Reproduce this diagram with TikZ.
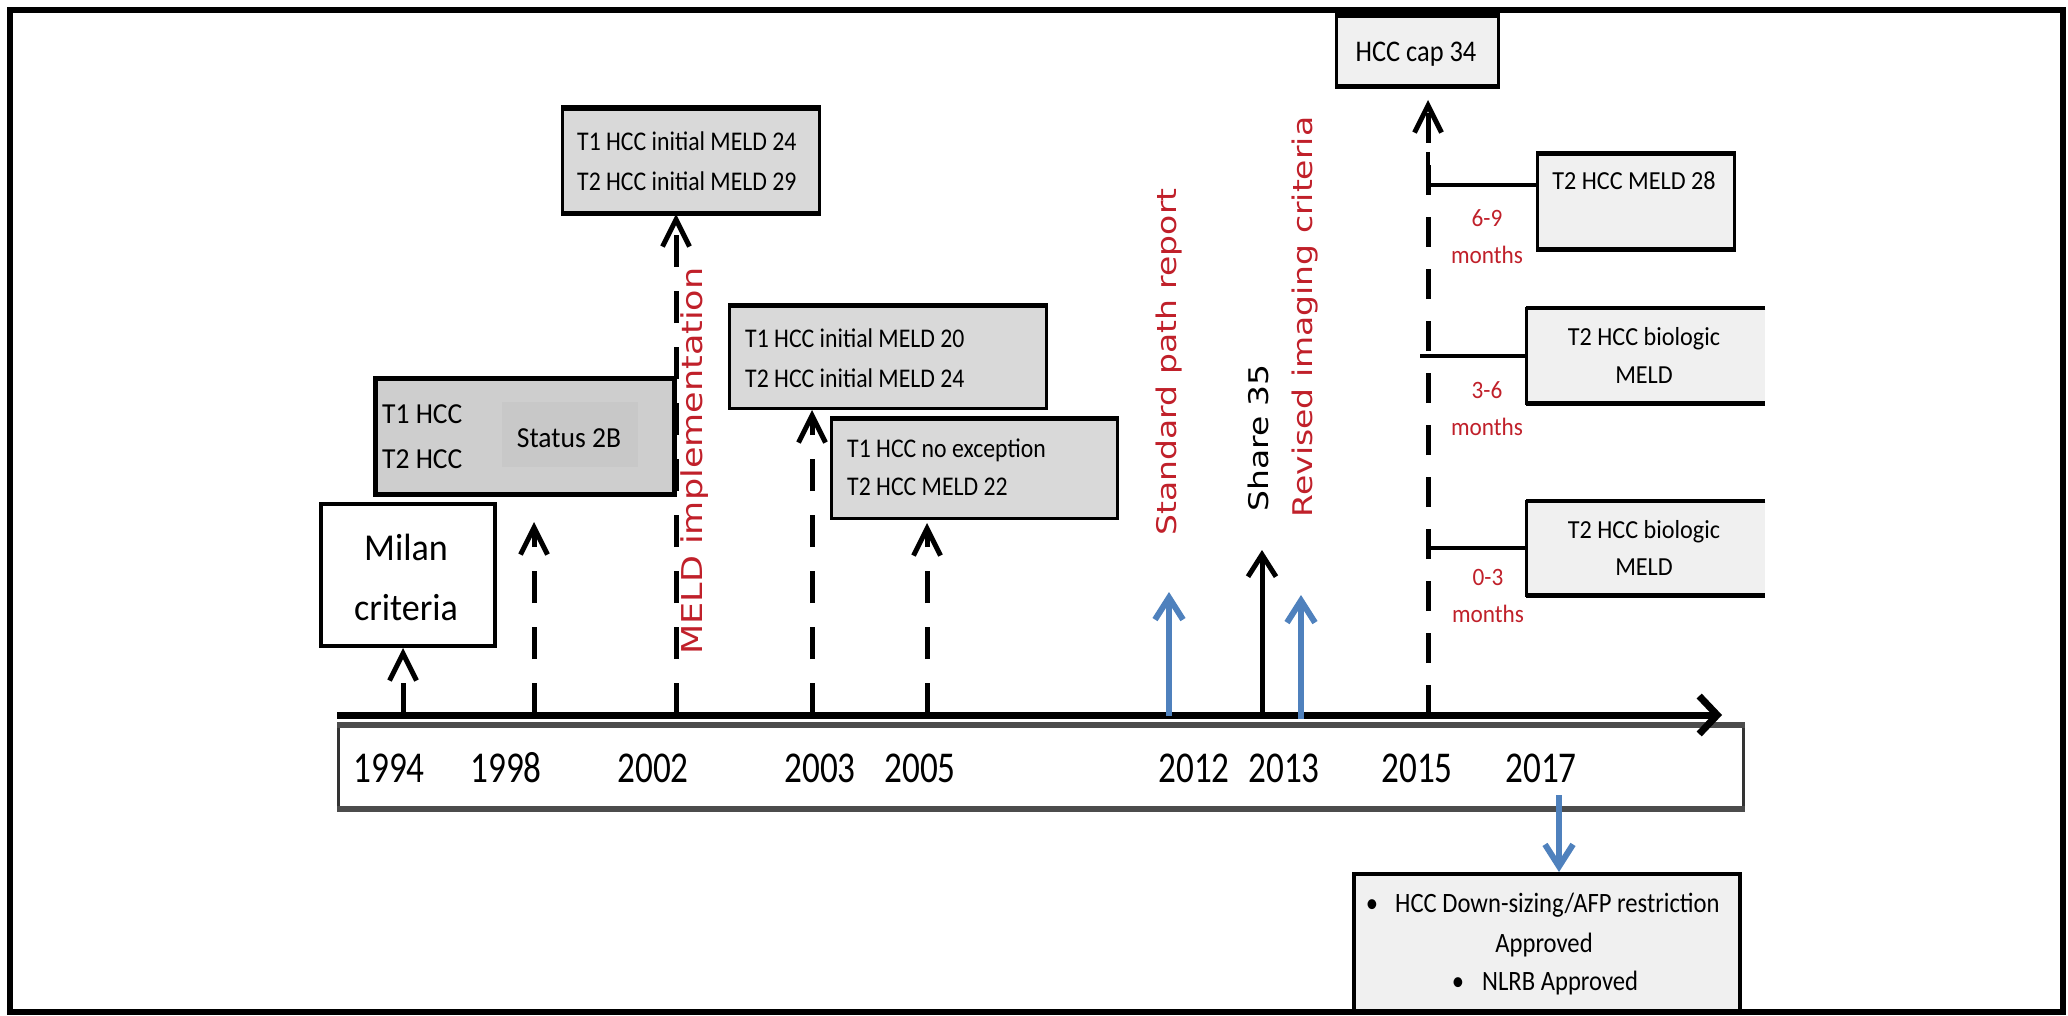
\documentclass[tikz,border=0pt]{standalone}
\usepackage{fontspec}
\usepackage{graphicx}
\usetikzlibrary{arrows.meta}
\setmainfont{Carlito}
\newfontfamily\fntBox[FakeStretch=0.88]{Carlito}
\newfontfamily\fntYear[FakeStretch=0.8]{Carlito}
\newfontfamily\fntMil[FakeStretch=0.95]{Carlito}
\newfontfamily\fntR[FakeStretch=0.93]{Carlito}
\newfontfamily\fntRot{DejaVu Sans}
\definecolor{boxgray}{RGB}{217,217,217}
\definecolor{statgray}{RGB}{206,206,206}
\definecolor{statinner}{RGB}{200,200,200}
\definecolor{lightfill}{RGB}{240,240,240}
\definecolor{myred}{RGB}{192,32,42}
\definecolor{myblue}{RGB}{79,129,189}
\tikzset{
  boxline/.style={draw=black, line width=3},
  thickedge/.style={draw=black, line width=5},
  graybox/.style={boxline, fill=boxgray, inner sep=0, anchor=north west},
  statbox/.style={boxline, line width=5, fill=statgray, inner sep=0, anchor=north west},
  whitebox/.style={boxline, line width=4, fill=white, inner sep=0, anchor=north west},
  lightbox/.style={boxline, fill=lightfill, inner sep=0, anchor=north west},
  openbox/.style={draw=none, fill=lightfill, inner sep=0, anchor=north west},
  yearbox/.style={draw=black!80, line width=2.5, fill=white, inner sep=0, anchor=north west},
  tl/.style={inner sep=0, anchor=base west},
  tc/.style={inner sep=0, anchor=base},
  boxfont/.style={font=\fntBox\fontsize{27}{32}\selectfont},
  statfont/.style={font=\fntMil\fontsize{29}{34}\selectfont},
  milfont/.style={font=\fntMil\fontsize{38}{44}\selectfont},
  yearfont/.style={font=\fntYear\fontsize{44}{50}\selectfont},
  capfont/.style={font=\fntBox\fontsize{30}{34}\selectfont},
  rfont/.style={font=\fntR\fontsize{26}{30}\selectfont},
  monfont/.style={font=\fntR\fontsize{25}{30}\selectfont, text=myred},
  hfont/.style={font=\fntBox\fontsize{28}{32}\selectfont},
  rot/.style={rotate=90, inner sep=0, font=\fntRot\fontsize{33}{36}\selectfont},
  dasharrow/.style={draw=black, line width=5, dash pattern=on 32pt off 24pt,
    -{Straight Barb[length=27pt,width=27pt]}},
  bluearrow/.style={draw=myblue, line width=6, -{Straight Barb[length=22pt,width=28pt]}},
  blackarrow/.style={draw=black, line width=5, -{Straight Barb[length=22pt,width=28pt]}},
  branch/.style={draw=black, line width=4},
  timeline/.style={draw=black, line width=7, -{Straight Barb[length=18pt,width=38pt]}}
}
\begin{document}
\begin{tikzpicture}[x=1pt,y=-1pt]
\useasboundingbox (0,0) rectangle (2068,1016);

% ---------- coordinates on the time line ----------
\coordinate (barL) at (337,715);
\coordinate (barR) at (1722,715);
\coordinate (t1994) at (403,715);
\coordinate (t1998) at (534,715);
\coordinate (t2002) at (676,715);
\coordinate (t2003) at (812,715);
\coordinate (t2005) at (927,715);
\coordinate (t2012) at (1169,716);
\coordinate (t2013a) at (1262,715);
\coordinate (t2013b) at (1301,719);
\coordinate (t2015) at (1428,715);
\coordinate (e1998) at (534,522);
\coordinate (e2005) at (927,523);
\coordinate (e2012) at (1169,592);
\coordinate (e2013a) at (1262,550);
\coordinate (e2013b) at (1301,595);
\coordinate (e2015) at (1428,100);
\coordinate (b2017) at (1559,795);
\coordinate (v1) at (1428,152);
\coordinate (v2) at (1428,185);
\coordinate (v3) at (1420,356);
\coordinate (v4) at (1427,548);

% ---------- boxes ----------
\node[graybox, minimum width=257, minimum height=103] (A) at (561,108) {};
\node[statbox, minimum width=299, minimum height=116] (B) at (373,376) {};
\node[draw=none, fill=statinner, inner sep=0, anchor=north west, minimum width=136, minimum height=65] (Bi) at (502,402) {};
\node[whitebox, minimum width=174, minimum height=142] (M) at (319,502) {};
\node[graybox, minimum width=317, minimum height=102] (C) at (728,305) {};
\node[graybox, minimum width=286, minimum height=99] (D) at (830,418) {};
\node[lightbox, minimum width=162, minimum height=69] (K) at (1335,15) {};
\node[lightbox, minimum width=197, minimum height=94] (E) at (1536,153) {};
\node[openbox, minimum width=239, minimum height=95] (F) at (1526,308) {};
\node[openbox, minimum width=239, minimum height=94] (G) at (1526,501) {};
\node[lightbox, line width=4, minimum width=386, minimum height=138] (H) at (1352,872) {};
\node[yearbox, minimum width=1405, minimum height=81] (Y) at (337,725) {};

\draw[thickedge] (A.north west) -- (A.north east) (A.south west) -- (A.south east);
\draw[thickedge, line width=4] (C.north west) -- (C.north east) (D.north west) -- (D.north east);
\draw[thickedge] (K.north west) -- (K.north east) (K.south west) -- (K.south east);
\draw[thickedge, line width=4.5] (E.north west) -- (E.north east) (E.south west) -- (E.south east);
\draw[boxline] (F.north east) -- (F.north west) -- (F.south west) -- (F.south east);
\draw[boxline] (G.north east) -- (G.north west) -- (G.south west) -- (G.south east);
\draw[thickedge, line width=4.5] (F.north west) -- (F.north east) (F.south west) -- (F.south east);
\draw[thickedge, line width=4.5] (G.north west) -- (G.north east) (G.south west) -- (G.south east);
\draw[draw=black!70, line width=6] (Y.north west) -- (Y.north east) (Y.south west) -- (Y.south east);

% ---------- time line and connectors ----------
\draw[timeline] (barL) -- (barR);
\draw[dasharrow] (t1994) -- (t1994 |- M.south);
\draw[dasharrow] (t1998) -- (e1998);
\draw[dasharrow] (t2002) -- (t2002 |- A.south);
\draw[dasharrow] (t2003) -- (t2003 |- C.south);
\draw[dasharrow] (t2005) -- (e2005);
\draw[dasharrow, dash pattern=on 30pt off 22pt] (t2015) -- (e2015);
\draw[branch] (v1) -- (v2) -- (v2 -| E.west);
\draw[branch] (v3) -- (v3 -| F.west);
\draw[branch] (v4) -- (v4 -| G.west);
\draw[bluearrow] (t2012) -- (e2012);
\draw[blackarrow] (t2013a) -- (e2013a);
\draw[bluearrow] (t2013b) -- (e2013b);
\draw[bluearrow] (b2017) -- (b2017 |- H.north);

% ---------- texts in boxes ----------
\node[tl, boxfont] (a1) at (577,151) {T1 HCC initial MELD 24};
\node[tl, boxfont] (a2) at (577,191) {T2 HCC initial MELD 29};
\node[tl, statfont] (b1) at (382,423) {T1 HCC};
\node[tl, statfont] (b2) at (382,468) {T2 HCC};
\node[tc, statfont] (b3) at (569,447) {Status 2B};
\node[tc, milfont] (m1) at (406,560) {Milan};
\node[tc, milfont] (m2) at (406,620) {criteria};
\node[tl, boxfont] (c1) at (745,347) {T1 HCC initial MELD 20};
\node[tl, boxfont] (c2) at (745,387) {T2 HCC initial MELD 24};
\node[tl, boxfont] (d1) at (847,457) {T1 HCC no exception};
\node[tl, boxfont] (d2) at (847,495) {T2 HCC MELD 22};
\node[tc, capfont] (k1) at (1416,62) {HCC cap 34};
\node[tc, rfont] (e1) at (1634,190) {T2 HCC MELD 28};
\node[tc, rfont] (f1) at (1644,345) {T2 HCC biologic};
\node[tc, rfont] (f2) at (1644,383) {MELD};
\node[tc, rfont] (g1) at (1644,538) {T2 HCC biologic};
\node[tc, rfont] (g2) at (1644,575) {MELD};
\node[tc, monfont] (n1) at (1487,227) {6-9};
\node[tc, monfont] (n2) at (1487,263) {months};
\node[tc, monfont] (n3) at (1487,398) {3-6};
\node[tc, monfont] (n4) at (1487,435) {months};
\node[tc, monfont] (n5) at (1488,585) {0-3};
\node[tc, monfont] (n6) at (1488,622) {months};
\node[tc, hfont] (h0) at (1372,912) {•};
\node[tl, hfont] (h1) at (1395,912) {HCC Down-sizing/AFP restriction};
\node[tc, hfont] (h2) at (1544,952) {Approved};
\node[tc, hfont] (h3) at (1458,990) {•};
\node[tl, hfont] (h4) at (1482,990) {NLRB Approved};

% ---------- years ----------
\node[tc, yearfont] (y1994) at (389,782) {1994};
\node[tc, yearfont] (y1998) at (506,782) {1998};
\node[tc, yearfont] (y2002) at (653,782) {2002};
\node[tc, yearfont] (y2003) at (820,782) {2003};
\node[tc, yearfont] (y2005) at (920,782) {2005};
\node[tc, yearfont] (y2012) at (1194,782) {2012};
\node[tc, yearfont] (y2013) at (1284,782) {2013};
\node[tc, yearfont] (y2015) at (1417,782) {2015};
\node[tc, yearfont] (y2017) at (1541,782) {2017};

% ---------- rotated labels ----------
\node[rot, text=myred, font=\fntRot\fontsize{35}{38}\selectfont] (meld) at (695,461) {\scalebox{1}[0.82]{MELD implementation}};
\node[rot, text=myred] (path) at (1169,362) {\scalebox{1}[0.82]{Standard path report}};
\node[rot, text=black] (share) at (1258,438) {\scalebox{1}[0.82]{Share 35}};
\node[rot, text=myred] (imag) at (1305,317) {\scalebox{1}[0.82]{Revised imaging criteria}};

% ---------- frame ----------
\draw[line width=6] (10,10) rectangle (2063,1012);
\end{tikzpicture}
\end{document}
